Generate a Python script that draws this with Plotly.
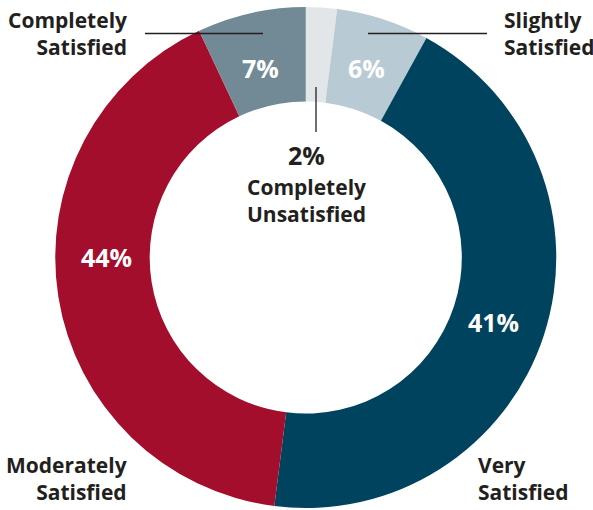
import plotly.graph_objects as go

W, H = 593, 510

# Categories in clockwise order from 12 o'clock
categories = ["Completely Unsatisfied", "Slightly Satisfied", "Very Satisfied",
              "Moderately Satisfied", "Completely Satisfied"]
# Slice sizes as drawn in the reference (the drawn teal/red arcs are ~44/41)
slice_shares = [2, 6, 44, 41, 7]
# Percent labels as printed on the reference
pct_labels = ["2%", "6%", "41%", "44%", "7%"]
colors = ["#e3e6e8", "#b8cad3", "#00435f", "#a20e2c", "#728a95"]

fig = go.Figure(go.Pie(
    labels=categories,
    values=slice_shares,
    sort=False,
    direction="clockwise",
    rotation=0,
    hole=0.623,
    marker=dict(colors=colors, line=dict(width=0)),
    textinfo="none",
    hoverinfo="skip",
    showlegend=False,
    domain=dict(x=[55 / W, 556.5 / W], y=[2 / H, 503 / H]),
))


def px(x, y):
    return x / W, 1 - y / H


FONT = "Open Sans"
DARK = "#231f20"
ann = []

# inside percentage labels (white)
inside_pos = {1: (366, 68), 2: (493, 322), 3: (106, 257), 4: (260, 68)}
for i, (x, y) in inside_pos.items():
    ax, ay = px(x, y)
    ann.append(dict(x=ax, y=ay, xref="paper", yref="paper", text=pct_labels[i],
                    showarrow=False, xanchor="center", yanchor="middle",
                    font=dict(family=FONT, size=25, color="white", weight="bold")))

# center label for Completely Unsatisfied
ax, ay = px(306, 155)
ann.append(dict(x=ax, y=ay, xref="paper", yref="paper", text=pct_labels[0],
                showarrow=False, xanchor="center", yanchor="middle",
                font=dict(family=FONT, size=25, color=DARK, weight="bold")))
ax, ay = px(306, 201)
ann.append(dict(x=ax, y=ay, xref="paper", yref="paper",
                text="Completely<br>Unsatisfied", align="center",
                showarrow=False, xanchor="center", yanchor="middle",
                font=dict(family=FONT, size=21, color=DARK, weight="bold")))

# outer category labels
outer = [
    (4, 129, 34, "right", "right"),
    (1, 502, 34, "left", "left"),
    (3, 129, 478, "right", "right"),
    (2, 476, 478, "left", "left"),
]
for i, x, y, xa, al in outer:
    ax, ay = px(x, y)
    txt = categories[i].replace(" ", "<br>")
    ann.append(dict(x=ax, y=ay, xref="paper", yref="paper", text=txt, align=al,
                    showarrow=False, xanchor=xa, yanchor="middle",
                    font=dict(family=FONT, size=21, color=DARK, weight="bold")))

shapes = []
for (x0, y0, x1, y1) in [(145, 33.5, 263, 33.5), (368, 33.5, 487, 33.5), (316, 87, 316, 132)]:
    a0, b0 = px(x0, y0)
    a1, b1 = px(x1, y1)
    shapes.append(dict(type="line", xref="paper", yref="paper", x0=a0, y0=b0, x1=a1, y1=b1,
                       line=dict(color=DARK, width=1.3)))

fig.update_layout(
    width=W, height=H,
    margin=dict(l=0, r=0, t=0, b=0),
    paper_bgcolor="white", plot_bgcolor="white",
    annotations=ann, shapes=shapes,
)

fig.write_html("out.html", config={"displayModeBar": False},
               post_script="document.body.style.margin='0';document.body.style.overflow='hidden';")
